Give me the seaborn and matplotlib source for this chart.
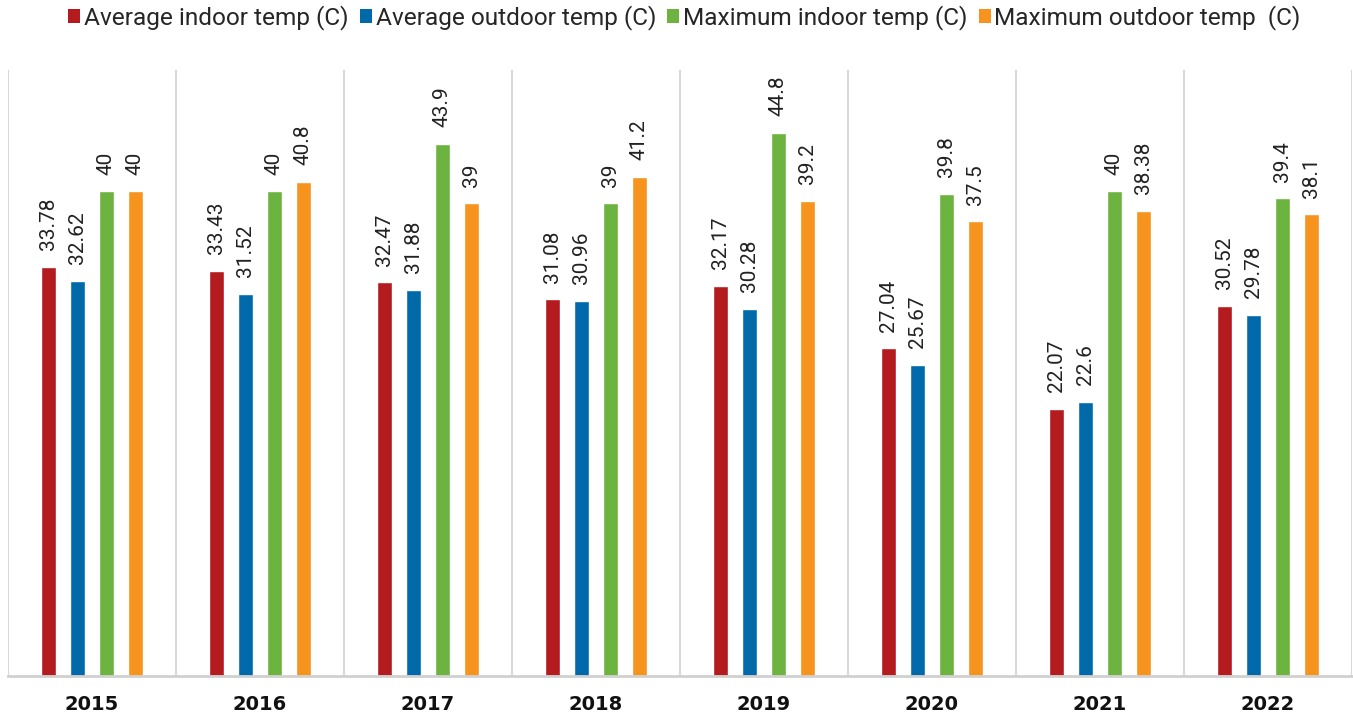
import matplotlib
matplotlib.use("Agg")
import matplotlib.pyplot as plt
from matplotlib.patches import Patch
import seaborn as sns
import pandas as pd

years = ["2015", "2016", "2017", "2018", "2019", "2020", "2021", "2022"]
series = ["Average indoor temp (C)", "Average outdoor temp (C)",
          "Maximum indoor temp (C)", "Maximum outdoor temp  (C)"]
avg_indoor = [33.78, 33.43, 32.47, 31.08, 32.17, 27.04, 22.07, 30.52]
avg_outdoor = [32.62, 31.52, 31.88, 30.96, 30.28, 25.67, 22.6, 29.78]
max_indoor = [40, 40, 43.9, 39, 44.8, 39.8, 40, 39.4]
max_outdoor = [40, 40.8, 39, 41.2, 39.2, 37.5, 38.38, 38.1]
colors = ["#B31B1E", "#0069AA", "#6DB33F", "#F7941E"]

rows = []
for name, vals in zip(series, [avg_indoor, avg_outdoor, max_indoor, max_outdoor]):
    for y, v in zip(years, vals):
        rows.append({"year": y, "series": name, "value": v})
df = pd.DataFrame(rows)

sns.set_style("white")
plt.rcParams["font.family"] = ["Roboto", "DejaVu Sans"]

fig = plt.figure(figsize=(13.53, 7.14), dpi=100)
ax = fig.add_axes([8 / 1353, 38 / 714, 1344 / 1353, 606 / 714])

sns.barplot(data=df, x="year", y="value", hue="series", palette=colors,
            width=0.69, gap=0.48, ax=ax, legend=False, saturation=1)

# value labels, rotated, sitting a bit above each bar
for c in ax.containers:
    ax.bar_label(c, labels=[f"{v:g}" for v in c.datavalues], rotation=90,
                 padding=12, fontsize=15, color="#222222")

ax.set_ylim(0, 50)
ax.set_xlim(-0.5, len(years) - 0.5)
for i in range(len(years) + 1):
    ax.axvline(i - 0.5, color="#D9D9D9", lw=1.5, zorder=0)

for s in ["top", "right", "left"]:
    ax.spines[s].set_visible(False)
ax.spines["bottom"].set_color("#D0D0D0")
ax.spines["bottom"].set_linewidth(2)
ax.set_yticks([])
ax.set_xlabel("")
ax.set_ylabel("")
ax.tick_params(axis="x", length=0, pad=14)
for lbl in ax.get_xticklabels():
    lbl.set_fontfamily("DejaVu Sans")
    lbl.set_fontweight("bold")
    lbl.set_fontsize(14)
    lbl.set_color("#111111")

handles = [Patch(facecolor=c, edgecolor="none") for c in colors]
fig.legend(handles, series, loc="center", bbox_to_anchor=(684.5 / 1353, 1 - 18 / 714),
           ncol=4, frameon=False, fontsize=17.6, handlelength=0.5,
           handleheight=0.5, handletextpad=0.15, columnspacing=0.45,
           borderpad=0)

fig.savefig("out.png", dpi=100)
